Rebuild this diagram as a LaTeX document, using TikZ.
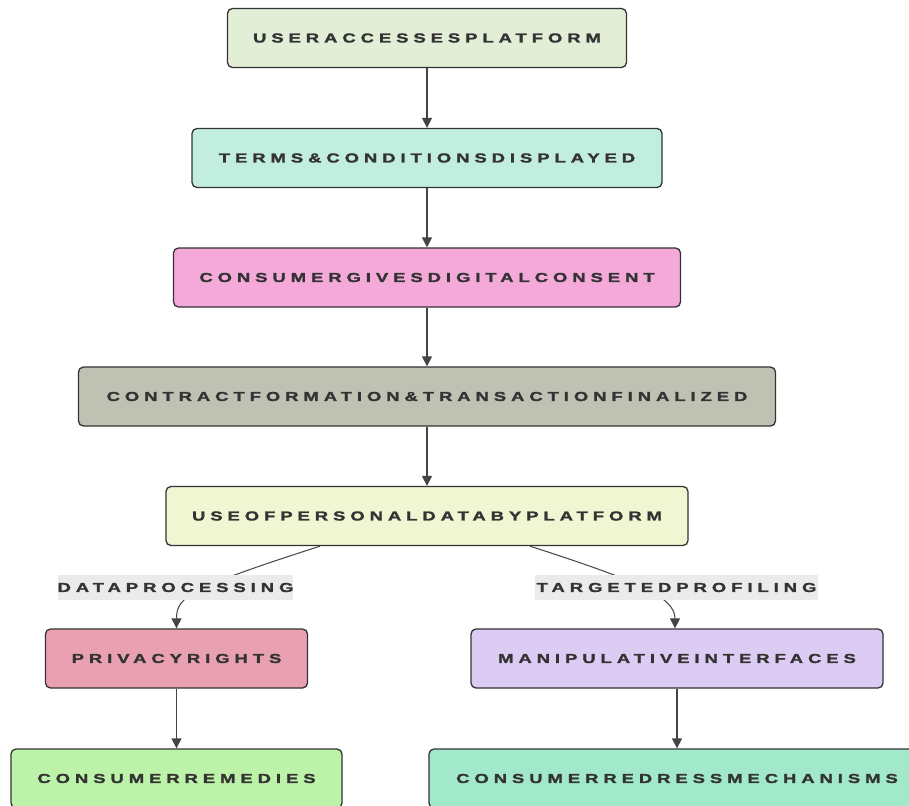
\documentclass[tikz,border=0pt]{standalone}
\usepackage{fontspec}
\setmainfont{Liberation Sans}
\newfontfamily\boxfont{Liberation Sans}[LetterSpace=38,FakeStretch=1.42,FakeBold=1.8]
\usetikzlibrary{arrows.meta,calc}
\definecolor{txt}{HTML}{333333}
\definecolor{edge}{HTML}{444444}
\definecolor{cA}{HTML}{E2EED6}
\definecolor{cB}{HTML}{C2EEE0}
\definecolor{cC}{HTML}{F4A9D9}
\definecolor{cD}{HTML}{BFC2B3}
\definecolor{cE}{HTML}{F1F6D2}
\definecolor{cF}{HTML}{E9A1B2}
\definecolor{cG}{HTML}{DCCCF4}
\definecolor{cH}{HTML}{BCF3A8}
\definecolor{cI}{HTML}{A2E9CC}
\definecolor{lbl}{HTML}{EBEBEB}
\tikzset{
  box/.style={draw=txt, line width=1.3pt, rounded corners=5pt, minimum height=59pt,
    inner sep=0pt, text=txt, font=\boxfont\bfseries\fontsize{13pt}{15pt}\selectfont},
  elabel/.style={fill=lbl, inner sep=0pt, minimum height=25pt, text=txt,
    font=\boxfont\bfseries\fontsize{13pt}{15pt}\selectfont},
  conn/.style={draw=edge, line width=1.3pt, -{Triangle[length=10pt,width=10pt]}},
  conn2/.style={draw=edge, line width=1pt, -{Triangle[length=10pt,width=10pt]}}
}
\begin{document}
\begin{tikzpicture}[x=1pt,y=-1pt]
\clip (0,0) rectangle (909,805);
\fill[white] (0,0) rectangle (909,805);
\node[box, fill=cA, minimum width=399pt] (n1) at (427,38) {USERACCESSESPLATFORM};
\node[box, fill=cB, minimum width=470pt] (n2) at (427,158) {TERMS\&CONDITIONSDISPLAYED};
\node[box, fill=cC, minimum width=507pt] (n3) at (427,277.5) {CONSUMERGIVESDIGITALCONSENT};
\node[box, fill=cD, minimum width=697pt] (n4) at (427,396.5) {CONTRACTFORMATION\&TRANSACTIONFINALIZED};
\node[box, fill=cE, minimum width=522pt] (n5) at (427,516) {USEOFPERSONALDATABYPLATFORM};
\node[box, fill=cF, minimum width=262pt] (n6) at (176.5,658.5) {PRIVACYRIGHTS};
\node[box, fill=cG, minimum width=412pt] (n7) at (677,658.5) {MANIPULATIVEINTERFACES};
\node[box, fill=cH, minimum width=331pt] (n8) at (176.5,778.5) {CONSUMERREMEDIES};
\node[box, fill=cI, minimum width=496pt] (n9) at (677,778.5) {CONSUMERREDRESSMECHANISMS};

\draw[conn] (n1.south) -- (n2.north);
\draw[conn] (n2.south) -- (n3.north);
\draw[conn] (n3.south) -- (n4.north);
\draw[conn] (n4.south) -- (n5.north);
\draw[conn] (n6.south) -- (n8.north);
\draw[conn] (n7.south) -- (n9.north);

\coordinate (s1) at ($(n5.south)+(-107,0)$);
\coordinate (s2) at ($(n5.south)+(103,0)$);
\draw[conn2] (s1) .. controls ($(s1)+(-130,42)$) and ($(n6.north)+(0,-32)$) .. (n6.north);
\draw[conn2] (s2) .. controls ($(s2)+(105,34)$) and ($(n7.north)+(-2,-32)$) .. ($(n7.north)+(-2,0)$);

\node[elabel, minimum width=235pt] (l1) at (175.5,587.5) {DATAPROCESSING};
\node[elabel, minimum width=283pt] (l2) at (676.5,587.5) {TARGETEDPROFILING};
\end{tikzpicture}
\end{document}
